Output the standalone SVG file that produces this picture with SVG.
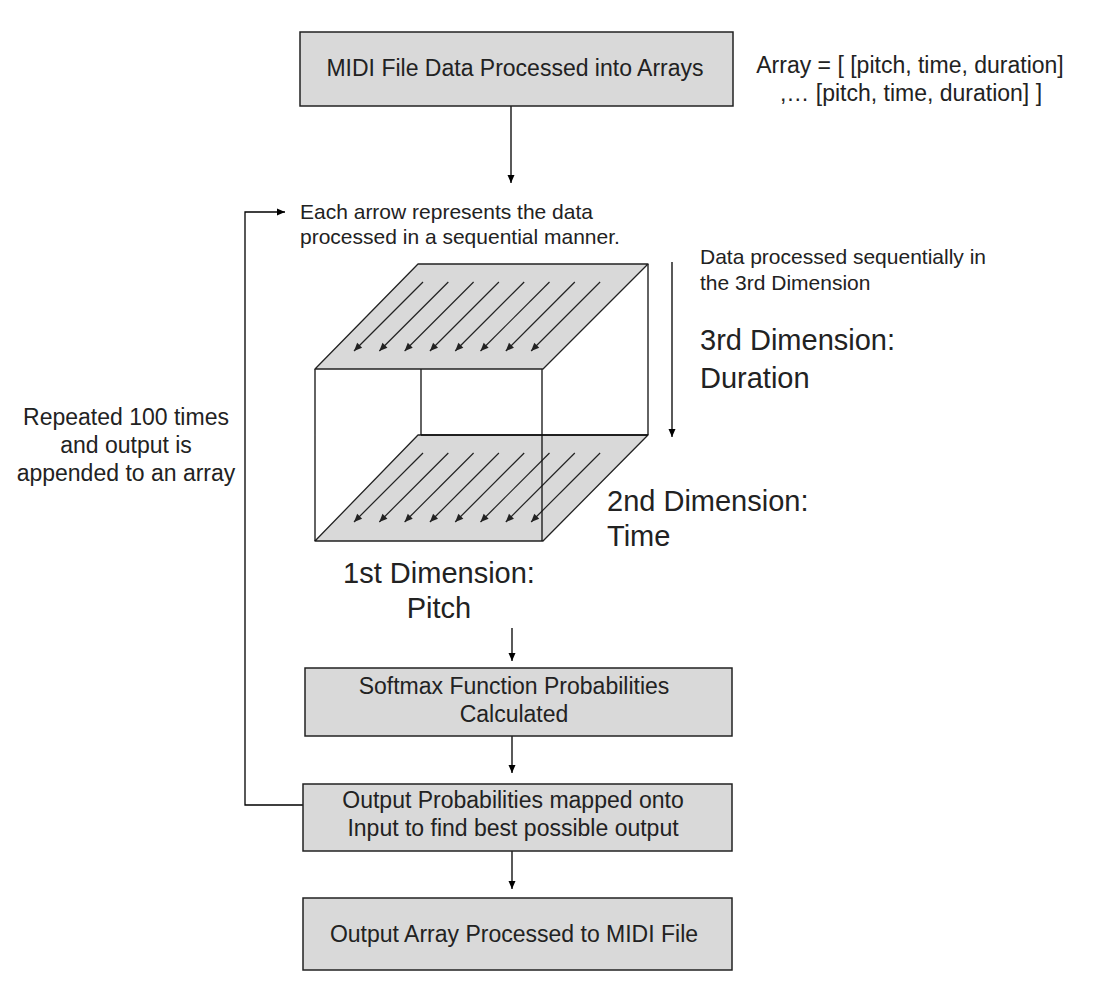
<svg xmlns="http://www.w3.org/2000/svg" width="1100" height="1008" viewBox="0 0 1100 1008">
<defs>
<marker id="ah" markerWidth="10" markerHeight="10" refX="9" refY="5" orient="auto" markerUnits="userSpaceOnUse"><path d="M1,1.5 L9,5 L1,8.5 Z" fill="#000"/></marker>
<marker id="sh" markerWidth="10" markerHeight="10" refX="9" refY="5" orient="auto" markerUnits="userSpaceOnUse"><path d="M1,1.5 L9,5 L1,8.5 Z" fill="#222"/></marker>
<style>
.box{fill:#d9d9d9;stroke:#222;stroke-width:1.5}
.face{fill:#d9d9d9;stroke:#222;stroke-width:1.3;stroke-linejoin:round}
.edge{stroke:#111;stroke-width:1.3;fill:none}
.con{stroke:#000;stroke-width:1.3;fill:none;marker-end:url(#ah)}
.da{stroke:#222;stroke-width:1.2;fill:none;marker-end:url(#sh)}
text{font-family:"Liberation Sans",Arial,sans-serif;fill:#222}
.t21{font-size:21px}
.t23{font-size:23px}
.t29{font-size:29px}
.mid{text-anchor:middle}
</style>
</defs>
<rect width="1100" height="1008" fill="#fff"/>

<g id="connectors">
<path class="con" d="M511,106 L511,183"/>
<path class="con" d="M303,805 L245,805 L245,212 L285,212"/>
<path class="con" d="M672,262 L672,437"/>
<path class="con" d="M512,628 L512,661"/>
<path class="con" d="M512,736 L512,773"/>
<path class="con" d="M512,851 L512,889"/>
</g>

<g id="node-midi-input">
<rect class="box" x="300" y="32" width="433" height="74"/>
<text class="t23 mid" x="515" y="76">MIDI File Data Processed into Arrays</text>
</g>

<g id="array-note">
<text class="t23 mid" x="910" y="73">Array = [ [pitch, time, duration]</text>
<text class="t23 mid" x="911" y="101">,… [pitch, time, duration] ]</text>
</g>

<g id="arrow-note">
<text class="t21" x="300" y="219">Each arrow represents the data</text>
<text class="t21" x="300" y="244">processed in a sequential manner.</text>
</g>

<g id="seq-note">
<text class="t21" x="700" y="264">Data processed sequentially in</text>
<text class="t21" x="700" y="290">the 3rd Dimension</text>
</g>

<g id="cube">
<polygon class="face" points="418,435 648,435 543,541 315,541"/>
<g id="bottom-arrows">
<line class="da" x1="423" y1="453" x2="354" y2="522"/>
<line class="da" x1="448.3" y1="453" x2="379.3" y2="522"/>
<line class="da" x1="473.6" y1="453" x2="404.6" y2="522"/>
<line class="da" x1="498.9" y1="453" x2="429.9" y2="522"/>
<line class="da" x1="524.2" y1="453" x2="455.2" y2="522"/>
<line class="da" x1="549.5" y1="453" x2="480.5" y2="522"/>
<line class="da" x1="574.8" y1="453" x2="505.8" y2="522"/>
<line class="da" x1="600.1" y1="453" x2="531.1" y2="522"/>
</g>
<path class="edge" d="M315,369 L315,541 M421,369 L421,435 M542,369 L542,541 M648,264 L648,435 M421,435 L648,435"/>
<polygon class="face" points="418,264 648,264 543,369 315,369"/>
<g id="top-arrows">
<line class="da" x1="423" y1="282" x2="354" y2="351"/>
<line class="da" x1="448.3" y1="282" x2="379.3" y2="351"/>
<line class="da" x1="473.6" y1="282" x2="404.6" y2="351"/>
<line class="da" x1="498.9" y1="282" x2="429.9" y2="351"/>
<line class="da" x1="524.2" y1="282" x2="455.2" y2="351"/>
<line class="da" x1="549.5" y1="282" x2="480.5" y2="351"/>
<line class="da" x1="574.8" y1="282" x2="505.8" y2="351"/>
<line class="da" x1="600.1" y1="282" x2="531.1" y2="351"/>
</g>
</g>

<g id="label-3rd">
<text class="t29" x="700" y="350">3rd Dimension:</text>
<text class="t29" x="700" y="388">Duration</text>
</g>
<g id="label-2nd">
<text class="t29" x="607" y="511">2nd Dimension:</text>
<text class="t29" x="607" y="546">Time</text>
</g>
<g id="label-1st">
<text class="t29 mid" x="439" y="583">1st Dimension:</text>
<text class="t29 mid" x="439" y="618">Pitch</text>
</g>

<g id="label-repeat">
<text class="t23 mid" x="126" y="425">Repeated 100 times</text>
<text class="t23 mid" x="126" y="453">and output is</text>
<text class="t23 mid" x="126" y="481">appended to an array</text>
</g>

<g id="node-softmax">
<rect class="box" x="305" y="668" width="427" height="68"/>
<text class="t23 mid" x="514" y="694">Softmax Function Probabilities</text>
<text class="t23 mid" x="514" y="722">Calculated</text>
</g>

<g id="node-mapping">
<rect class="box" x="303" y="784" width="429" height="67"/>
<text class="t23 mid" x="513" y="808">Output Probabilities mapped onto</text>
<text class="t23 mid" x="513" y="836">Input to find best possible output</text>
</g>

<g id="node-output">
<rect class="box" x="303" y="898" width="429" height="72"/>
<text class="t23 mid" x="514" y="942">Output Array Processed to MIDI File</text>
</g>
</svg>
